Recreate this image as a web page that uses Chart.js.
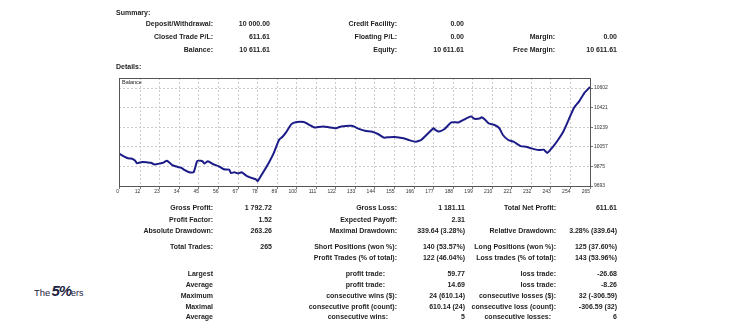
<!DOCTYPE html>
<html>
<head>
<meta charset="utf-8">
<script src="https://cdn.jsdelivr.net/npm/chart.js@4.4.1/dist/chart.umd.min.js"></script>
<style>
  html,body{margin:0;padding:0;background:#fff;}
  body{width:741px;height:329px;position:relative;overflow:hidden;font-family:'Liberation Sans',Arial,sans-serif;}
  .t{position:absolute;white-space:nowrap;font-weight:bold;font-size:7px;line-height:10px;color:#1e1e1e;}
  #wrap{position:absolute;left:100px;top:70px;width:540px;height:135px;}
  #bal{position:absolute;left:122px;top:79px;font-size:5.5px;line-height:7px;color:#222;}
  #logo{position:absolute;left:34px;top:282px;color:#1d2340;white-space:nowrap;font-family:'Liberation Sans',Arial,sans-serif;}
  #logo .a{font-size:9.5px;margin-right:1px;}
  #logo .b{font-size:15px;font-weight:bold;font-style:italic;letter-spacing:-1px;}
  #logo .c{font-size:9px;}
</style>
</head>
<body>
<div id="wrap"><canvas id="c" width="540" height="135"></canvas></div>
<div id="bal">Balance</div>
<div id="logo"><span class="a">The</span><span class="b">5%</span><span class="c">ers</span></div>
<script>
// ---- chart data ----
const trades  = [0,2,3,5,7,9,10,13,16,18,20,23,25,27,30,33,35,37,40,42,44,46,47,48,50,53,56,59,62,63,65,67,69,72,75,77,78,80,84,87,90,92,94,97,100,104,107,110,112,115,118,122,125,131,135,139,142,146,149,152,155,160,163,167,170,174,177,178,180,183,187,191,194,198,200,203,204,206,208,211,214,216,219,222,226,229,232,236,239,241,244,247,250,253,256,259,262,265];
const balance = [9995,9975,9965,9950,9948,9930,9905,9916,9912,9908,9893,9902,9910,9927,9886,9870,9862,9840,9818,9820,9925,9928,9922,9902,9922,9895,9878,9848,9845,9813,9820,9810,9820,9785,9766,9755,9737,9790,9900,9995,10120,10150,10190,10267,10286,10286,10261,10236,10240,10245,10238,10229,10245,10251,10223,10204,10198,10173,10142,10146,10148,10136,10120,10104,10120,10183,10229,10214,10198,10220,10283,10283,10308,10339,10317,10320,10330,10308,10273,10261,10229,10166,10120,10104,10063,10057,10042,10026,10030,10000,10054,10120,10198,10308,10420,10481,10560,10611.61];
const xTickLabels = [0,12,23,34,45,56,67,78,89,100,111,122,133,144,155,166,177,188,199,210,221,232,243,254,265];
const yTickLabels = [9693,9875,10057,10239,10421,10602];

// ---- report texts ----
const summaryRows = [
  ["Deposit/Withdrawal:","10 000.00","Credit Facility:","0.00","",""],
  ["Closed Trade P/L:","611.61","Floating P/L:","0.00","Margin:","0.00"],
  ["Balance:","10 611.61","Equity:","10 611.61","Free Margin:","10 611.61"]
];
const summaryY = [24,37,50];
const detailRows = [
  ["Gross Profit:","1 792.72","Gross Loss:","1 181.11","Total Net Profit:","611.61"],
  ["Profit Factor:","1.52","Expected Payoff:","2.31","",""],
  ["Absolute Drawdown:","263.26","Maximal Drawdown:","339.64 (3.28%)","Relative Drawdown:","3.28% (339.64)"],
  ["Total Trades:","265","Short Positions (won %):","140 (53.57%)","Long Positions (won %):","125 (37.60%)"],
  ["","","Profit Trades (% of total):","122 (46.04%)","Loss trades (% of total):","143 (53.96%)"],
  ["Largest","","profit trade:","59.77","loss trade:","-26.68"],
  ["Average","","profit trade:","14.69","loss trade:","-8.26"],
  ["Maximum","","consecutive wins ($):","24 (610.14)","consecutive losses ($):","32 (-306.59)"],
  ["Maximal","","consecutive profit (count):","610.14 (24)","consecutive loss (count):","-306.59 (32)"],
  ["Average","","consecutive wins:","5","consecutive losses:","6"]
];
const detailY = [208,220,231,247,258,274,285,296,307,317];
// small per-row shifts of the middle label column (as in the report layout)
const midLabelShift = [0,0,0,0,0,-12,-12,0,0,-9];
const rightLabelShift = [0,0,0,0,0,0,0,0,0,-5];

function put(txt, x, yc, left){
  if(!txt) return;
  const d=document.createElement('div');
  d.className='t';
  d.textContent=txt;
  if(left){ d.style.left=x+'px'; } else { d.style.right=(741-x)+'px'; }
  d.style.top=(yc-5)+'px';
  document.body.appendChild(d);
}
put("Summary:",116,13,true);
put("Details:",116,67,true);
const sCols=[213,270,397,464,555,617];
summaryRows.forEach((r,i)=>r.forEach((s,j)=>put(s,sCols[j],summaryY[i])));
const dCols=[213,272,397,465,556,617];
detailRows.forEach((r,i)=>r.forEach((s,j)=>{
  let x=dCols[j];
  if(j===2) x+=midLabelShift[i];
  if(j===4) x+=rightLabelShift[i];
  put(s,x,detailY[i]);
}));

// ---- chart ----
const frame={id:'frame',afterDraw(ch){const a=ch.chartArea,c=ch.ctx;c.save();c.strokeStyle='#555';c.lineWidth=1;c.setLineDash([]);c.strokeRect(Math.round(a.left)+0.5,Math.round(a.top)+0.5,Math.round(a.right-a.left),Math.round(a.bottom-a.top));c.restore();}};
new Chart(document.getElementById('c'),{
  type:'line',
  data:{datasets:[{label:'Balance',data:trades.map((t,i)=>({x:t,y:balance[i]})),borderColor:'#1c1c88',borderWidth:2,pointRadius:0,tension:0.15,fill:false}]},
  options:{
    responsive:false,animation:false,
    layout:{padding:{left:19,top:8,right:10,bottom:5}},
    plugins:{legend:{display:false},tooltip:{enabled:false}},
    scales:{
      x:{type:'linear',min:0,max:265,
        afterBuildTicks:s=>{s.ticks=xTickLabels.map(v=>({value:v}));},
        afterFit:s=>{s.height=14;},
        grid:{color:'#cccccc',lineWidth:1,tickLength:3,tickColor:'#777'},
        border:{color:'#555',dash:[2,2]},
        ticks:{autoSkip:false,maxRotation:0,align:'end',padding:0,color:'#333',font:{family:'Liberation Sans',size:5},callback:v=>String(v)}
      },
      y:{position:'right',min:9693,max:10695,
        afterBuildTicks:s=>{s.ticks=yTickLabels.map(v=>({value:v}));},
        afterFit:s=>{s.width=40;},
        grid:{color:'#cccccc',lineWidth:1,tickLength:3,tickColor:'#777'},
        border:{color:'#555',dash:[2,2]},
        ticks:{padding:1,color:'#333',font:{family:'Liberation Sans',size:5},callback:v=>String(v)}
      }
    }
  },
  plugins:[frame]
});
</script>
</body>
</html>
